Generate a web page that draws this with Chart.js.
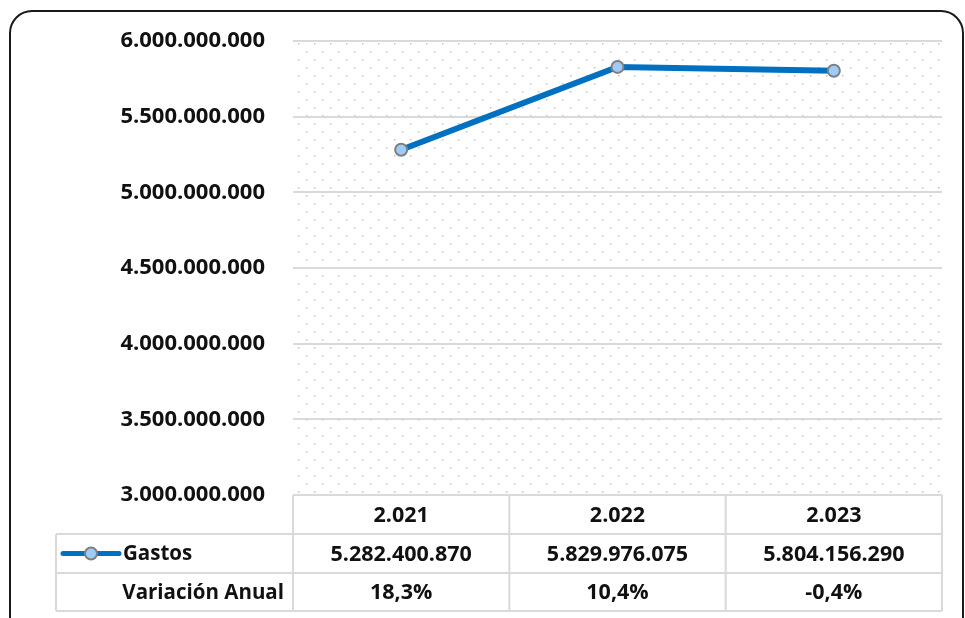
<!DOCTYPE html>
<html>
<head>
<meta charset="utf-8">
<script src="https://cdn.jsdelivr.net/npm/chart.js@4.4.1/dist/chart.umd.min.js"></script>
<style>
  html, body { margin: 0; padding: 0; background: #fff; }
  #wrap { width: 965px; height: 618px; position: relative; }
</style>
</head>
<body>
<div id="wrap"><canvas id="gastosChart"></canvas></div>
<script>
// chart data
const years = ['2.021', '2.022', '2.023'];
const gastos = [5282400870, 5829976075, 5804156290];
const variacion = ['18,3%', '10,4%', '-0,4%'];
const yMin = 3000000000;
const yMax = 6000000000;
const yStep = 500000000;

const FONT = '"Open Sans", sans-serif';
const lineColor = '#0070C0';
const gridColor = '#d9d9d9';

function fmtMiles(n) {
    return String(n).replace(/\B(?=(\d{3})+(?!\d))/g, '.');
}

// dotted fill used by Excel for the plot area
function makeDots() {
    const c = document.createElement('canvas');
    c.width = 16; c.height = 16;
    const g = c.getContext('2d');
    g.fillStyle = '#c4c4c4';
    g.fillRect(2, 3, 1.5, 1.5);
    g.fillRect(10, 11, 1.5, 1.5);
    return c;
}

const framePlugin = {
    id: 'frame',
    beforeDraw(chart) {
        const ctx = chart.ctx;
        const a = chart.chartArea;
        ctx.save();
        ctx.fillStyle = '#fff';
        ctx.fillRect(0, 0, chart.width, chart.height);

        // rounded outer border
        ctx.strokeStyle = '#1a1a1a';
        ctx.lineWidth = 2;
        ctx.beginPath();
        ctx.roundRect(10, 11, 953, 640, 22);
        ctx.stroke();

        // dotted plot background
        ctx.fillStyle = ctx.createPattern(makeDots(), 'repeat');
        ctx.fillRect(a.left, a.top, a.right - a.left, a.bottom - a.top);
        ctx.restore();
    }
};

const tablePlugin = {
    id: 'dataTable',
    afterDraw(chart) {
        const ctx = chart.ctx;
        const a = chart.chartArea;
        const x = chart.scales.x;
        const rows = [a.bottom, 534, 573, 611];
        const tableLeft = 56;
        const cw = (a.right - a.left) / years.length;
        const cols = years.map((_, i) => a.left + i * cw);
        cols.push(a.right);

        ctx.save();
        ctx.strokeStyle = gridColor;
        ctx.lineWidth = 2;
        ctx.beginPath();
        // horizontal lines
        ctx.moveTo(a.left, rows[0]); ctx.lineTo(a.right, rows[0]);
        for (let r = 1; r < rows.length; r++) {
            ctx.moveTo(tableLeft, rows[r]); ctx.lineTo(a.right, rows[r]);
        }
        // vertical lines
        cols.forEach(cx => { ctx.moveTo(cx, rows[0]); ctx.lineTo(cx, rows[3]); });
        ctx.moveTo(tableLeft, rows[1]); ctx.lineTo(tableLeft, rows[3]);
        ctx.stroke();

        ctx.fillStyle = '#111';
        ctx.font = 'bold 21.5px ' + FONT;
        ctx.textBaseline = 'middle';
        ctx.textAlign = 'center';
        years.forEach((y, i) => {
            const px = x.getPixelForValue(i);
            ctx.fillText(y, px, (rows[0] + rows[1]) / 2 + 1);
            ctx.fillText(fmtMiles(gastos[i]), px, (rows[1] + rows[2]) / 2 + 1);
            ctx.fillText(variacion[i], px, (rows[2] + rows[3]) / 2 + 1);
        });

        // legend key + row titles
        const ky = (rows[1] + rows[2]) / 2;
        ctx.strokeStyle = lineColor;
        ctx.lineWidth = 5;
        ctx.lineCap = 'round';
        ctx.beginPath();
        ctx.moveTo(63, ky); ctx.lineTo(119, ky);
        ctx.stroke();
        ctx.beginPath();
        ctx.arc(91, ky, 6, 0, Math.PI * 2);
        ctx.fillStyle = '#9DCBFA';
        ctx.fill();
        ctx.strokeStyle = '#7f7f7f';
        ctx.lineWidth = 2;
        ctx.stroke();

        ctx.fillStyle = '#111';
        ctx.font = 'bold 20.5px ' + FONT;
        ctx.textAlign = 'left';
        ctx.fillText('Gastos', 123, ky + 1);
        ctx.textAlign = 'right';
        ctx.fillText('Variación Anual', 284, (rows[2] + rows[3]) / 2 + 1);
        ctx.restore();
    }
};

new Chart(document.getElementById('gastosChart'), {
    type: 'line',
    data: {
        labels: years,
        datasets: [{
            label: 'Gastos',
            data: gastos,
            borderColor: lineColor,
            borderWidth: 6,
            pointRadius: 6,
            pointBackgroundColor: '#9DCBFA',
            pointBorderColor: '#7f7f7f',
            pointBorderWidth: 2,
            tension: 0
        }]
    },
    options: {
        responsive: true,
        maintainAspectRatio: false,
        animation: false,
        layout: { padding: { top: 40, bottom: 123, right: 23, left: 0 } },
        plugins: {
            legend: { display: false },
            tooltip: { enabled: false }
        },
        scales: {
            x: {
                display: false,
                offset: true
            },
            y: {
                min: yMin,
                max: yMax,
                afterFit(s) { s.width = 293; },
                border: { display: false },
                grid: { color: gridColor, lineWidth: 2, drawTicks: false },
                ticks: {
                    stepSize: yStep,
                    padding: 28,
                    color: '#111',
                    font: { family: FONT, size: 22, weight: 'bold' },
                    callback: v => fmtMiles(v)
                }
            }
        }
    },
    plugins: [framePlugin, tablePlugin]
});
</script>
</body>
</html>
